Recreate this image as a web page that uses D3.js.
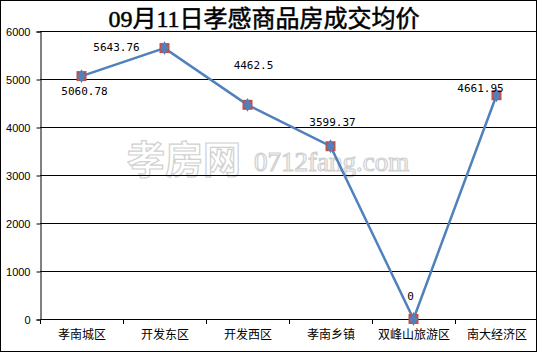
<!DOCTYPE html>
<html><head><meta charset="utf-8">
<script src="https://cdn.jsdelivr.net/npm/d3@7"></script>
<style>body{margin:0;background:#fff;} svg{display:block;}</style>
</head><body>
<script>
const title = "09月11日孝感商品房成交均价";
const categories = ["孝南城区","开发东区","开发西区","孝南乡镇","双峰山旅游区","南大经济区"];
const values = [5060.78, 5643.76, 4462.5, 3599.37, 0, 4661.95];
const valueLabels = ["5060.78","5643.76","4462.5","3599.37","0","4661.95"];
const yTicks = [0,1000,2000,3000,4000,5000,6000];

const W = 537, H = 352;
const m = {left:40, top:31, right:0, bottom:33};
const svg = d3.select("body").append("svg").attr("width",W).attr("height",H);
svg.append("rect").attr("x",0.5).attr("y",0.5).attr("width",W-1).attr("height",H-1)
  .attr("fill","#fff").attr("stroke","#000");

const x = d3.scaleBand().domain(categories).range([m.left, 538]).padding(0);
const y = d3.scaleLinear().domain([0,6000]).range([H-m.bottom, m.top]);

// watermark
svg.append("text").attr("x",127).attr("y",173)
  .attr("font-family","Noto Sans CJK SC").attr("font-weight","bold").attr("font-size",38)
  .attr("fill","#fff").attr("stroke","#d0d0d0").attr("stroke-width",1.2).text("孝房网");
svg.append("text").attr("x",254).attr("y",171)
  .attr("font-family","Liberation Serif").attr("font-size",27)
  .attr("fill","#fff").attr("stroke","#d0d0d0").attr("stroke-width",1.2).text("0712fang.com");

// gridlines
svg.append("g").selectAll("line").data(yTicks).join("line")
  .attr("x1",m.left).attr("x2",W).attr("y1",d=>Math.round(y(d))+0.5).attr("y2",d=>Math.round(y(d))+0.5)
  .attr("stroke","#000").attr("stroke-width",1);

// y axis
const ya = svg.append("g").attr("transform",`translate(${m.left+0.5},0.5)`)
  .call(d3.axisLeft(y).tickValues(yTicks).tickSize(4).tickPadding(6).tickFormat(d3.format("d")));
ya.select(".domain").attr("stroke","#000");
ya.selectAll("text").attr("font-family","Liberation Sans, Arial").attr("font-size",11).attr("fill","#000");
ya.selectAll("line").attr("stroke","#000");

// x axis
const xa = svg.append("g").attr("transform",`translate(0.5,${y(0)+0.5})`)
  .call(d3.axisBottom(x).tickSize(0).tickPadding(11));
xa.select(".domain").remove();
xa.selectAll("text").attr("font-family","Noto Sans CJK SC").attr("font-size",12).attr("fill","#000");
svg.append("g").selectAll("line").data(d3.range(categories.length+1)).join("line")
  .attr("x1",i=>Math.round(m.left + i*x.bandwidth())+0.5).attr("x2",i=>Math.round(m.left + i*x.bandwidth())+0.5)
  .attr("y1",y(0)).attr("y2",y(0)+5).attr("stroke","#000");

// line
const cx = (d,i)=>x(categories[i])+x.bandwidth()/2;
svg.append("path").datum(values)
  .attr("d", d3.line().x((d,i)=>cx(d,i)).y(d=>y(d)))
  .attr("fill","none").attr("stroke","#4F81BD").attr("stroke-width",2.5);

// markers
svg.append("g").selectAll("rect").data(values).join("rect")
  .attr("x",(d,i)=>cx(d,i)-5).attr("y",d=>y(d)-5).attr("width",10).attr("height",10)
  .attr("fill","#C0504D");
svg.append("g").selectAll("path").data(values).join("path")
  .attr("transform",(d,i)=>`translate(${cx(d,i)},${y(d)})`)
  .attr("d", d3.symbol().type(d3.symbolDiamond).size(55))
  .attr("fill","#4F81BD");

// data labels
const offs = [[3,19],[-48,3],[6,-36],[2,-20],[-3,-19],[-16,-3]];
svg.append("g").selectAll("text").data(values).join("text")
  .attr("x",(d,i)=>cx(d,i)+offs[i][0]).attr("y",(d,i)=>y(d)+offs[i][1])
  .attr("text-anchor","middle")
  .attr("font-family","DejaVu Sans Mono").attr("font-size",11).attr("fill","#000")
  .text((d,i)=>valueLabels[i]);

// title
svg.append("text").attr("x",264).attr("y",27).attr("text-anchor","middle")
  .attr("font-family","Liberation Serif, Noto Sans CJK SC").attr("font-weight","normal").attr("font-size",24)
  .attr("fill","#000").attr("stroke","#000").attr("stroke-width",0.5).text(title);
</script>
</body></html>
